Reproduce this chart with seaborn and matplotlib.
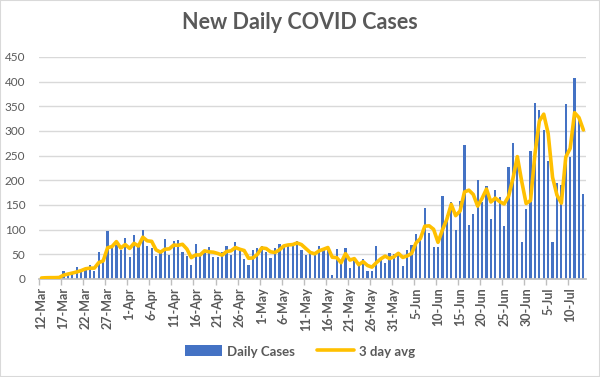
import numpy as np
import pandas as pd
import matplotlib
matplotlib.use("Agg")
import matplotlib.pyplot as plt
import seaborn as sns
from matplotlib.patches import Rectangle

# daily values, 12-Mar .. 13-Jul
start_date = "2020-03-12"
daily_cases = [
    2, 3, 3, 2, 4, 17, 9, 10, 24, 17, 21, 28, 17, 55, 38, 97, 62, 68, 58, 83,
    45, 89, 66, 99, 67, 63, 47, 53, 81, 49, 76, 80, 55, 47, 28, 71, 47, 53, 65, 45,
    45, 55, 67, 49, 75, 57, 41, 28, 59, 63, 67, 55, 43, 63, 71, 67, 69, 73, 77, 59,
    49, 53, 51, 67, 63, 61, 8, 61, 30, 63, 22, 39, 26, 40, 16, 16, 67, 39, 33, 52,
    50, 54, 27, 59, 69, 91, 86, 144, 93, 65, 65, 168, 130, 156, 99, 158, 272, 110, 132, 201,
    157, 189, 122, 181, 167, 108, 226, 276, 242, 75, 142, 260, 357, 343, 302, 240, 75, 195, 191, 355,
    248, 408, 325, 173,
]
avg_3day = [
    2, 2.5, 2.7, 2.7, 3, 7.7, 10, 12, 14.3, 17, 20.7, 22, 22, 33.3, 36.7, 63.3, 65.7, 75.7, 62.7, 69.7,
    62, 72.3, 66.7, 84.7, 77.3, 76.3, 59, 54.3, 60.3, 61, 68.7, 68.3, 70.3, 60.7, 43.3, 48.7, 48.7, 57, 55, 54.3,
    51.7, 48.3, 55.7, 57, 63.7, 60.3, 57.7, 42, 42.7, 50, 63, 61.7, 55, 53.7, 59, 67, 69, 69.7, 73, 69.7,
    61.7, 53.7, 51, 57, 60.3, 63.7, 44, 43.3, 33, 51.3, 38.3, 41.3, 29, 35, 27.3, 24, 33, 40.7, 46.3, 41.3,
    45, 52, 43.7, 46.7, 51.7, 73, 82, 107, 107.7, 100.7, 74.3, 99.3, 121, 151.3, 128.3, 137.7, 176.3, 180, 171.3, 147.7,
    163.3, 182.3, 156, 164, 156.7, 152, 167, 203.3, 248, 197.7, 153, 159, 253, 320, 334, 295, 206, 170, 153.7, 247,
    264.7, 337, 327, 302,
]
y_ticks = list(range(0, 451, 50))

dates = pd.date_range(start_date, periods=len(daily_cases), freq="D")
df = pd.DataFrame({
    "day": np.arange(len(dates)),
    "cases": daily_cases,
    "avg": avg_3day,
})
tick_days = list(range(0, len(dates), 5))
tick_labels = [f"{dates[d].day}-{dates[d].strftime('%b')}" for d in tick_days]

sns.set_theme(style="white")
plt.rcParams["font.family"] = ["Lato", "DejaVu Sans"]

grey_txt = "#595959"
fig = plt.figure(figsize=(6, 3.77), dpi=100)
ax = fig.add_axes([0.0655, 0.26, 0.9105, 0.589])

sns.barplot(data=df, x="day", y="cases", native_scale=True, color="#4472C4",
            width=0.5, saturation=1, linewidth=0, ax=ax, label="Daily Cases", zorder=2)
sns.lineplot(data=df, x="day", y="avg", color="#FFC000", linewidth=2.6,
             solid_joinstyle="round", solid_capstyle="round",
             ax=ax, label="3 day avg", zorder=3)

ax.set_xlim(-0.5, len(dates) - 0.5)
ax.set_ylim(0, 450)
ax.set_yticks(y_ticks)
ax.yaxis.grid(True, color="#D9D9D9", linewidth=1)
ax.set_axisbelow(True)
ax.set_xlabel("")
ax.set_ylabel("")

for s in ["top", "right", "left"]:
    ax.spines[s].set_visible(False)
ax.spines["bottom"].set_color("#BFBFBF")

ax.set_xticks(tick_days)
ax.set_xticklabels(tick_labels, rotation=90, fontsize=9, fontweight="bold", color=grey_txt)
ax.set_xticks(np.array(tick_days) - 0.5, minor=True)
ax.tick_params(axis="x", which="major", length=0, pad=6)
ax.tick_params(axis="x", which="minor", length=4, color="#BFBFBF", bottom=True)
ax.tick_params(axis="y", length=0, labelsize=8.5, labelcolor=grey_txt, pad=10)

# legend: bars first, then the line
handles, labels = ax.get_legend_handles_labels()
ax.get_legend().remove()
order = [labels.index("Daily Cases"), labels.index("3 day avg")]
leg = fig.legend([handles[i] for i in order], [labels[i] for i in order],
                 loc="lower center", bbox_to_anchor=(0.5, 0.015), ncol=2,
                 frameon=False, handlelength=2.4, columnspacing=1.5, handletextpad=0.3)
for t in leg.get_texts():
    t.set_color(grey_txt)
    t.set_fontsize(9.5)
    t.set_fontweight("bold")

fig.text(0.5, 0.94, "New Daily COVID Cases", ha="center", va="center",
         fontsize=15.5, fontweight="bold", color=grey_txt)
fig.patches.append(Rectangle((0, 0), 1, 1, transform=fig.transFigure, fill=False,
                             edgecolor="#D9D9D9", linewidth=1.5))

fig.savefig("out.png", dpi=100)
